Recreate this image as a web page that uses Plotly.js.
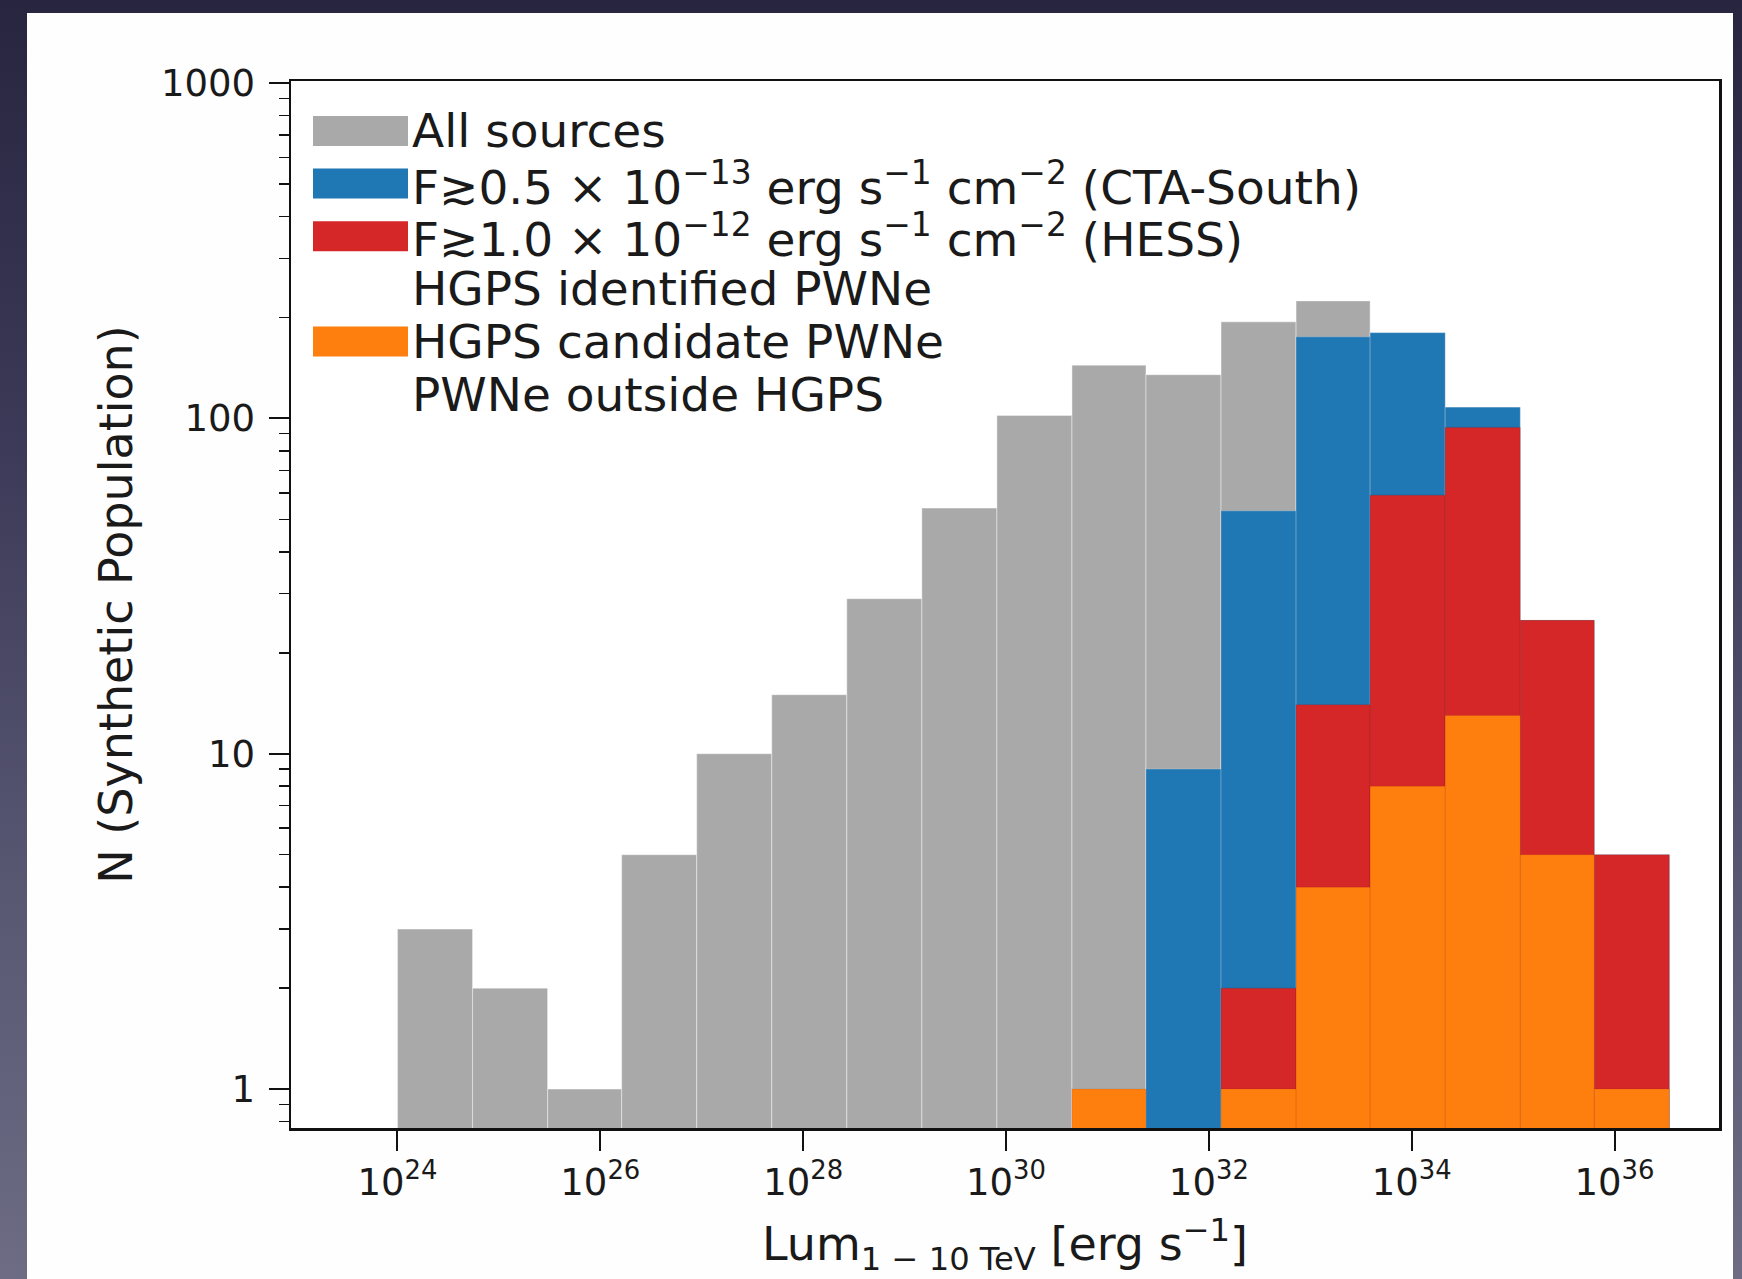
<!DOCTYPE html>
<html>
<head>
<meta charset="utf-8">
<script src="https://cdn.plot.ly/plotly-3.0.1.min.js"></script>
<style>
  html, body { margin: 0; padding: 0; }
  body {
    width: 1742px; height: 1279px; overflow: hidden; position: relative;
    background: linear-gradient(to bottom, #27253f 0%, #3c3a58 35%, #595873 70%, #6d6c84 100%);
  }
  #panel { position: absolute; left: 27px; top: 13px; width: 1706px; height: 1266px; background: #fefefe; }
  #chart { position: absolute; left: 0; top: 0; width: 1742px; height: 1279px; }
</style>
</head>
<body>
<div id="panel"></div>
<div id="chart"></div>
<script>
// ---- data ----
// histogram bin edges, log10(L / erg s^-1)
const binEdgesExp = [24.00, 24.74, 25.48, 26.21, 26.95, 27.69, 28.43, 29.17, 29.91, 30.65, 31.38, 32.12, 32.86, 33.59, 34.33, 35.07, 35.80, 36.54];
// counts per bin
const allSources    = [3, 2, 1, 5, 10, 15, 29, 54, 102, 144, 135, 194, 224, 180, 108, 25, 5];
const ctaSouth      = [null, null, null, null, null, null, null, null, null, null, 9, 53, 175, 180, 108, 25, 5];
const hess          = [null, null, null, null, null, null, null, null, null, null, null, 2, 14, 59, 94, 25, 5];
const hgpsCandidate = [null, null, null, null, null, null, null, null, null, 1, null, 1, 4, 8, 13, 5, 1];

const seriesNames = [
  'All sources',
  'F≳0.5 × 10<sup>−13</sup> erg s<sup>−1</sup> cm<sup>−2</sup> (CTA-South)',
  'F≳1.0 × 10<sup>−12</sup> erg s<sup>−1</sup> cm<sup>−2</sup> (HESS)',
  'HGPS identified PWNe',
  'HGPS candidate PWNe',
  'PWNe outside HGPS'
];
const seriesColors = ['#a9a9a9', '#1f77b4', '#d62728', null, '#ff7f0e', null];
const seriesValues = [allSources, ctaSouth, hess, null, hgpsCandidate, null];

const xTickExp = [24, 26, 28, 30, 32, 34, 36];
const xTickLabels = ['10<sup>24</sup>', '10<sup>26</sup>', '10<sup>28</sup>', '10<sup>30</sup>', '10<sup>32</sup>', '10<sup>34</sup>', '10<sup>36</sup>'];
const yTickVals = [1, 10, 100, 1000];
const yTickLabels = ['1', '10', '100', '1000'];

// ---- build traces (log x axis, bars span bin edges) ----
const FONT = 'DejaVu Sans, Verdana, sans-serif';
const lo = binEdgesExp.slice(0, -1).map(e => Math.pow(10, e));
const hi = binEdgesExp.slice(1).map(e => Math.pow(10, e));
const centers = binEdgesExp.slice(0, -1).map((e, i) => Math.pow(10, (e + binEdgesExp[i + 1]) / 2));
const widths = lo.map((l, i) => hi[i] - l);
const offsets = lo.map((l, i) => l - centers[i]);

const edgeColors = ['rgba(255,255,255,0.35)', 'rgba(255,255,255,0.18)', 'rgba(0,0,0,0.08)', null, 'rgba(0,0,0,0.06)', null];

const traces = [];
seriesValues.forEach((vals, k) => {
  if (!vals) return;
  traces.push({
    type: 'bar',
    name: seriesNames[k].replace(/<[^>]+>/g, ''),
    x: centers,
    y: vals,
    width: widths,
    offset: offsets,
    marker: { color: seriesColors[k], line: { color: edgeColors[k], width: 1.2 } },
    showlegend: false,
    hoverinfo: 'y'
  });
});

// ---- manual legend (large swatches like the matplotlib original) ----
const plotL = 291, plotT = 81, plotW = 1428, plotH = 1047;
const px = x => (x - plotL) / plotW;
const py = y => (plotT + plotH - y) / plotH;
const legendTop = 131, legendStep = 52.6, swX0 = 313, swX1 = 408, swH = 30, textX = 410;

const shapes = [], annotations = [];
seriesNames.forEach((name, k) => {
  const yc = legendTop + k * legendStep;
  if (seriesColors[k]) {
    shapes.push({ type: 'rect', xref: 'paper', yref: 'paper',
      x0: px(swX0), x1: px(swX1), y0: py(yc + swH / 2), y1: py(yc - swH / 2),
      fillcolor: seriesColors[k], line: { width: 0 } });
  }
  annotations.push({ xref: 'paper', yref: 'paper', x: px(textX), y: py(yc),
    xanchor: 'left', yanchor: 'middle', showarrow: false, text: name,
    font: { family: FONT, size: 47, color: '#1a1a1a' } });
});

const minorY = [0.8, 0.9, 2, 3, 4, 5, 6, 7, 8, 9, 20, 30, 40, 50, 60, 70, 80, 90, 200, 300, 400, 500, 600, 700, 800, 900];

const layout = {
  width: 1742, height: 1279,
  margin: { l: plotL, r: 1742 - plotL - plotW, t: plotT, b: 1279 - plotT - plotH },
  paper_bgcolor: 'rgba(0,0,0,0)',
  plot_bgcolor: '#ffffff',
  barmode: 'overlay',
  bargap: 0,
  font: { family: FONT, color: '#1a1a1a' },
  xaxis: {
    type: 'log',
    range: [22.95, 37.03],
    tickmode: 'array',
    tickvals: xTickExp.map(e => Math.pow(10, e)),
    ticktext: xTickLabels,
    ticks: 'outside', ticklen: 20, tickwidth: 2, tickcolor: '#111',
    tickfont: { family: FONT, size: 37, color: '#1a1a1a' },
    showline: true, linecolor: '#111', linewidth: 2.5, mirror: true,
    showgrid: false, zeroline: false,
    automargin: false,
    title: { text: 'Lum<sub>1 − 10 TeV</sub> [erg s<sup>−1</sup>]', font: { family: FONT, size: 46, color: '#1a1a1a' }, standoff: 25 }
  },
  yaxis: {
    type: 'log',
    range: [-0.116, 3.006],
    tickmode: 'array',
    tickvals: yTickVals,
    ticktext: yTickLabels,
    ticks: 'outside', ticklen: 20, tickwidth: 2, tickcolor: '#111',
    ticklabelstandoff: 6,
    minor: { tickmode: 'array', tickvals: minorY, ticks: 'outside', ticklen: 10, tickwidth: 1.5, tickcolor: '#111', showgrid: false },
    tickfont: { family: FONT, size: 37, color: '#1a1a1a' },
    showline: true, linecolor: '#111', linewidth: 2.5, mirror: true,
    showgrid: false, zeroline: false,
    automargin: false,
    title: { text: 'N (Synthetic Population)', font: { family: FONT, size: 46, color: '#1a1a1a' }, standoff: 14 }
  },
  shapes: shapes,
  annotations: annotations
};

Plotly.newPlot('chart', traces, layout, { displayModeBar: false, staticPlot: true });
</script>
</body>
</html>
